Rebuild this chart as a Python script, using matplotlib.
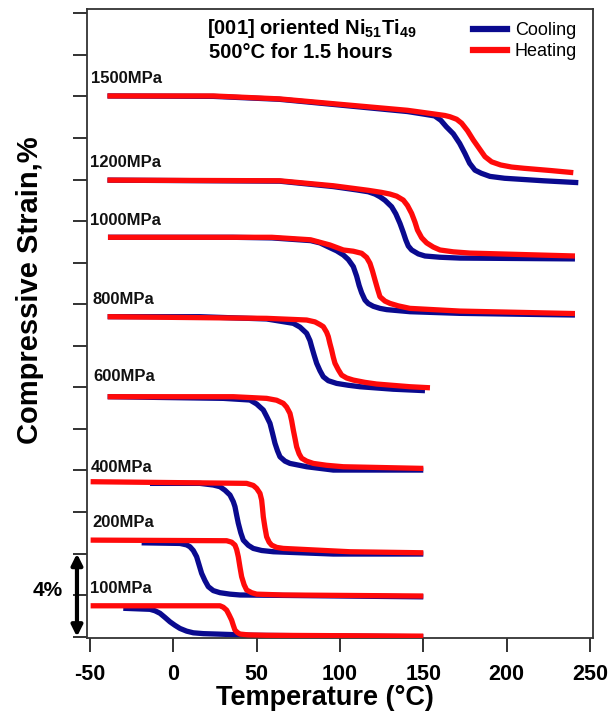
import matplotlib
matplotlib.use("Agg")
import matplotlib.pyplot as plt
from matplotlib.lines import Line2D

plt.rcParams["font.family"] = ["Liberation Sans", "DejaVu Sans"]
plt.rcParams["axes.unicode_minus"] = False
plt.rcParams["mathtext.fontset"] = "custom"
plt.rcParams["mathtext.rm"] = "Liberation Sans:bold"
plt.rcParams["mathtext.bf"] = "Liberation Sans:bold"
plt.rcParams["mathtext.default"] = "rm"

# ---- strain (%) vs temperature (°C) for each applied stress ----
# 1500 MPa
T_cool_1500 = [-39.5, 24, 63.6, 105.5, 140.5, 150, 156.8, 160.5, 163.8, 168, 171.8, 175, 177.8, 181, 184.8, 190, 198.8, 222, 243]
e_cool_1500 = [26.02, 26.00, 25.86, 25.54, 25.27, 25.15, 25.06, 24.85, 24.54, 24.20, 23.74, 23.25, 22.78, 22.45, 22.30, 22.15, 22.06, 21.94, 21.85]
T_heat_1500 = [-39.5, 24, 63.6, 105.5, 140.5, 156.8, 163, 166, 170, 173, 176.5, 180, 183.5, 187, 191, 196.4, 203, 210.4, 226.7, 240]
e_heat_1500 = [26.02, 26.02, 25.88, 25.58, 25.33, 25.15, 25.08, 25.02, 24.90, 24.71, 24.35, 23.90, 23.50, 23.10, 22.85, 22.70, 22.60, 22.54, 22.43, 22.33]

# 1200 MPa
T_cool_1200 = [-39.5, 63.8, 96, 110, 117, 121, 124, 127, 131, 133.5, 136, 138, 139.5, 141, 143, 147, 151, 160, 172, 241]
e_cool_1200 = [21.97, 21.92, 21.66, 21.50, 21.41, 21.30, 21.17, 21.00, 20.69, 20.35, 19.89, 19.45, 19.09, 18.80, 18.61, 18.42, 18.32, 18.26, 18.22, 18.18]
T_heat_1200 = [-39.5, 63.8, 96, 117, 125, 130, 134, 138, 140.5, 143, 145, 146.5, 149, 152, 156, 160, 168, 178, 241]
e_heat_1200 = [21.97, 21.94, 21.70, 21.48, 21.38, 21.30, 21.20, 21.01, 20.75, 20.37, 19.95, 19.57, 19.20, 18.95, 18.75, 18.61, 18.52, 18.46, 18.32]

# 1000 MPa
T_cool_1000 = [-39.2, 35.8, 59.1, 82.4, 88, 94, 98, 102, 105, 108, 110, 111.5, 113, 115, 117, 120, 124, 128, 142, 172, 241]
e_cool_1000 = [19.22, 19.22, 19.19, 19.06, 18.95, 18.72, 18.57, 18.37, 18.15, 17.81, 17.35, 16.90, 16.55, 16.20, 16.03, 15.90, 15.80, 15.74, 15.64, 15.56, 15.48]
T_heat_1000 = [-39.2, 59.1, 82.4, 94, 102, 108, 113, 116, 118, 119.5, 121, 122.5, 124, 127, 130, 135, 142, 172, 241]
e_heat_1000 = [19.22, 19.22, 19.10, 18.85, 18.61, 18.55, 18.45, 18.25, 17.97, 17.60, 17.17, 16.75, 16.36, 16.15, 16.04, 15.92, 15.80, 15.67, 15.55]

# 800 MPa
T_cool_800 = [-39.4, 16, 56, 72, 76, 80, 82, 83, 84.5, 86, 88, 90, 93, 98, 105, 112, 132, 151]
e_cool_800 = [15.40, 15.40, 15.29, 15.08, 14.90, 14.60, 14.25, 13.96, 13.55, 13.16, 12.80, 12.51, 12.32, 12.19, 12.10, 12.03, 11.91, 11.84]
T_heat_800 = [-39.4, 56, 80, 85, 88, 90, 92, 93, 94, 95, 96, 97, 99, 101, 104, 108, 115, 122, 142, 154]
e_heat_800 = [15.40, 15.32, 15.24, 15.15, 15.02, 14.92, 14.65, 14.44, 14.10, 13.80, 13.45, 13.16, 12.85, 12.59, 12.45, 12.35, 12.24, 12.16, 12.03, 11.98]

# 600 MPa
T_cool_600 = [-39.4, 30, 46, 50, 54, 56, 58, 59.5, 61, 62.5, 64, 67, 70, 80, 96, 150]
e_cool_600 = [11.55, 11.47, 11.39, 11.20, 10.91, 10.60, 10.27, 9.80, 9.31, 8.95, 8.66, 8.45, 8.34, 8.18, 8.02, 8.02]
T_heat_600 = [-39.4, 36, 56, 62, 66, 68, 70, 71, 72, 73, 74, 75.5, 77, 80, 84, 92, 102, 150]
e_heat_600 = [11.55, 11.55, 11.47, 11.38, 11.23, 11.05, 10.75, 10.40, 9.95, 9.55, 9.14, 8.80, 8.59, 8.45, 8.34, 8.25, 8.18, 8.10]

# 400 MPa
T_cool_400 = [-14, 16, 24, 28, 31, 34, 36, 37, 38, 39, 40.5, 42, 45, 48, 53, 60, 96, 150]
e_cool_400 = [7.38, 7.38, 7.30, 7.22, 7.05, 6.82, 6.50, 6.26, 5.85, 5.46, 5.00, 4.65, 4.40, 4.25, 4.15, 4.09, 3.98, 3.98]
T_heat_400 = [-49.6, 44, 48, 50, 52, 53, 53.5, 54, 55, 56, 57.5, 59, 62, 66, 86, 106, 150]
e_heat_400 = [7.46, 7.38, 7.28, 7.14, 6.90, 6.58, 6.20, 5.77, 5.25, 4.81, 4.55, 4.41, 4.30, 4.25, 4.17, 4.09, 4.04]

# 200 MPa
T_cool_200 = [-19, 4, 8, 10, 12, 14, 15.5, 17, 19, 21, 24, 28, 34, 40, 150]
e_cool_200 = [4.52, 4.49, 4.42, 4.33, 4.15, 3.85, 3.45, 3.05, 2.70, 2.41, 2.22, 2.12, 2.05, 2.01, 1.92]
T_heat_200 = [-49.6, 32, 35, 37, 38, 39, 40, 41, 42.5, 44, 47, 50, 66, 150]
e_heat_200 = [4.65, 4.62, 4.55, 4.41, 4.20, 3.85, 3.35, 2.89, 2.50, 2.25, 2.12, 2.05, 2.01, 1.96]

# 100 MPa
T_cool_100 = [-30, -14, -11, -8, -5, -2, 1, 4, 8, 12, 18, 26, 48, 150]
e_cool_100 = [1.37, 1.32, 1.25, 1.13, 0.93, 0.72, 0.55, 0.40, 0.27, 0.19, 0.15, 0.13, 0.07, 0.0]
T_heat_100 = [-49.6, 28, 30, 32, 33.5, 35, 36, 37, 38.5, 40, 45, 56, 150]
e_heat_100 = [1.49, 1.49, 1.42, 1.28, 1.05, 0.80, 0.55, 0.32, 0.20, 0.13, 0.09, 0.07, 0.03]

stress_labels = ["1500MPa", "1200MPa", "1000MPa", "800MPa", "600MPa", "400MPa", "200MPa", "100MPa"]
label_T = [-49.4, -49.8, -49.8, -48.2, -48.2, -49.4, -48.8, -50.0]
label_e = [26.88, 22.84, 20.05, 16.25, 12.50, 8.12, 5.52, 2.34]

x_ticks = [-50, 0, 50, 100, 150, 200, 250]
y_ticks = list(range(0, 31, 2))

COOL = "#0a0a8f"
HEAT = "#ff0a0a"

fig = plt.figure(figsize=(6.10, 7.17), dpi=100)
ax = fig.add_axes([87.3 / 610, 1 - 638 / 717, (593.3 - 87.3) / 610, (638 - 9.3) / 717])

curves = [
    (T_cool_1500, e_cool_1500, T_heat_1500, e_heat_1500),
    (T_cool_1200, e_cool_1200, T_heat_1200, e_heat_1200),
    (T_cool_1000, e_cool_1000, T_heat_1000, e_heat_1000),
    (T_cool_800, e_cool_800, T_heat_800, e_heat_800),
    (T_cool_600, e_cool_600, T_heat_600, e_heat_600),
    (T_cool_400, e_cool_400, T_heat_400, e_heat_400),
    (T_cool_200, e_cool_200, T_heat_200, e_heat_200),
    (T_cool_100, e_cool_100, T_heat_100, e_heat_100),
]
lw = 3.8
for tc, ec, th, eh in curves:
    ax.plot(tc, ec, color=COOL, lw=lw, solid_joinstyle="round", solid_capstyle="butt", zorder=2)
    ax.plot(th, eh, color=HEAT, lw=lw, solid_joinstyle="round", solid_capstyle="butt", zorder=3)

for lab, t, e in zip(stress_labels, label_T, label_e):
    ax.text(t, e, lab, fontsize=12, fontweight="bold", color="#111111",
            ha="left", va="center", zorder=4)

ax.set_xlim(-51.6, 252)
ax.set_ylim(-0.06, 30.19)
ax.set_xticks(x_ticks)
ax.set_yticks(y_ticks)
ax.set_yticklabels([])
ax.tick_params(axis="both", direction="out", length=10, width=1.3, color="#222222")
ax.tick_params(axis="x", labelsize=15.5, pad=9)
for lbl in ax.get_xticklabels():
    lbl.set_fontweight("bold")
for sp in ax.spines.values():
    sp.set_linewidth(1.3)
    sp.set_color("#333333")

fig.text(325 / 610, 1 - 698 / 717, "Temperature (°C)", fontsize=19.5, fontweight="bold",
         ha="center", va="center")
ax.set_ylabel("Compressive Strain,%", fontsize=21, fontweight="bold")
ax.yaxis.set_label_coords(-0.085, 0.553)

fig.text(312 / 610, 1 - 28 / 717, "[001] oriented Ni$_{51}$Ti$_{49}$", fontsize=14.5,
         fontweight="bold", ha="center", va="center")
fig.text(301 / 610, 1 - 53 / 717, "500°C for 1.5 hours", fontsize=14.5,
         fontweight="bold", ha="center", va="center")

handles = [Line2D([], [], color=COOL, lw=4.5), Line2D([], [], color=HEAT, lw=4.5)]
ax.legend(handles, ["Cooling", "Heating"], loc="upper right", bbox_to_anchor=(0.982, 0.9905),
          frameon=False, fontsize=13, handlelength=1.9, handletextpad=0.4,
          labelspacing=0.2, borderaxespad=0.0)

# 4% scale bar
ax.annotate("", xy=(-57.8, 0.0), xytext=(-57.8, 4.0), xycoords="data",
            arrowprops=dict(arrowstyle="<|-|>", color="black", lw=3,
                            mutation_scale=16, shrinkA=0, shrinkB=0),
            annotation_clip=False)
fig.text(48 / 610, 1 - 590 / 717, "4%", fontsize=15, fontweight="bold",
         ha="center", va="center")

fig.savefig("out.png", dpi=100)
